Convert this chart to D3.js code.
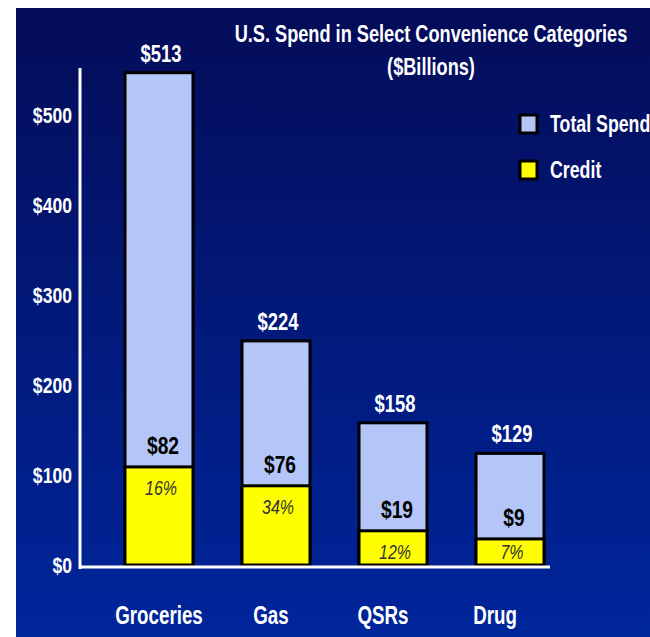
<!DOCTYPE html>
<html>
<head>
<meta charset="utf-8">
<script src="https://cdn.jsdelivr.net/npm/d3@7"></script>
<style>
  body { margin: 0; background: #fff; }
  svg { display: block; }
  text { font-family: "Liberation Sans", Arial, sans-serif; font-weight: bold; }
</style>
</head>
<body>
<script>
// categories and values ($Billions)
var categories = ["Groceries", "Gas", "QSRs", "Drug"];
var totalLabels = ["$513", "$224", "$158", "$129"];
var creditLabels = ["$82", "$76", "$19", "$9"];
var creditShare = ["16%", "34%", "12%", "7%"];
// bar extents as drawn in the picture (axis units)
var totalBars = [547, 249, 158, 124];
var creditBars = [109, 88, 38, 29];
var yTicks = [0, 100, 200, 300, 400, 500];
var legendItems = ["Total Spend", "Credit"];

var width = 650, height = 637;
var blue = "#b3c6f7", yellow = "#ffff00";

// the original uses a narrow bold face, squeeze the text horizontally
function condense(sel, k) {
  sel.each(function() {
    var t = d3.select(this),
        tx = +t.attr("x") || 0,
        ty = +t.attr("y") || 0;
    t.attr("x", 0).attr("y", 0)
      .attr("transform", "translate(" + tx + "," + ty + ") scale(" + k + ",1)");
  });
}

var svg = d3.select("body").append("svg")
    .attr("width", width)
    .attr("height", height);

var grad = svg.append("defs").append("linearGradient")
    .attr("id", "bg").attr("x1", 0).attr("y1", 0).attr("x2", 0).attr("y2", 1);
grad.append("stop").attr("offset", "0%").attr("stop-color", "#040c58");
grad.append("stop").attr("offset", "100%").attr("stop-color", "#00269c");

svg.append("rect")
    .attr("x", 16).attr("y", 8)
    .attr("width", width - 16).attr("height", height - 8)
    .attr("fill", "url(#bg)");

var x = d3.scaleBand().domain(categories).range([125, 544]).paddingInner(0.419).paddingOuter(0);
var y = d3.scaleLinear().domain([0, 500]).range([565, 115]);

// title
svg.append("text")
    .attr("x", 431).attr("y", 42)
    .attr("text-anchor", "middle")
    .attr("fill", "#fff").style("font-size", "23px")
    .text("U.S. Spend in Select Convenience Categories")
    .call(condense, 0.79);
svg.append("text")
    .attr("x", 431).attr("y", 75)
    .attr("text-anchor", "middle")
    .attr("fill", "#fff").style("font-size", "23px")
    .text("($Billions)")
    .call(condense, 0.79);

// y axis
var yAxis = svg.append("g")
    .attr("transform", "translate(72,0)")
    .call(d3.axisLeft(y).tickValues(yTicks).tickSize(0).tickPadding(0)
        .tickFormat(function(d) { return "$" + d; }));
yAxis.select(".domain").remove();
yAxis.selectAll("text")
    .attr("fill", "#fff")
    .attr("dy", "0.36em")
    .style("font-size", "22px")
    .style("font-family", "'Liberation Sans', Arial, sans-serif")
    .call(condense, 0.8);

svg.append("line")
    .attr("x1", 80).attr("x2", 80).attr("y1", 68).attr("y2", 569)
    .attr("stroke", "#fff").attr("stroke-width", 3);

var bars = svg.append("g").selectAll("g")
    .data(categories)
  .enter().append("g");

bars.append("rect")
    .attr("x", function(d) { return x(d); })
    .attr("width", x.bandwidth())
    .attr("y", function(d, i) { return y(totalBars[i]); })
    .attr("height", function(d, i) { return y(0) - y(totalBars[i]); })
    .attr("fill", blue).attr("stroke", "#000").attr("stroke-width", 3);

bars.append("rect")
    .attr("x", function(d) { return x(d); })
    .attr("width", x.bandwidth())
    .attr("y", function(d, i) { return y(creditBars[i]); })
    .attr("height", function(d, i) { return y(0) - y(creditBars[i]); })
    .attr("fill", yellow).attr("stroke", "#000").attr("stroke-width", 3);

// total labels
bars.append("text")
    .attr("x", function(d) { return x(d) + x.bandwidth() / 2 + 2; })
    .attr("y", function(d, i) { return y(totalBars[i]) - 11; })
    .attr("text-anchor", "middle")
    .attr("fill", "#fff").style("font-size", "23px")
    .text(function(d, i) { return totalLabels[i]; })
    .call(condense, 0.8);

// credit labels
bars.append("text")
    .attr("x", function(d) { return x(d) + x.bandwidth() / 2 + 4; })
    .attr("y", function(d, i) { return y(creditBars[i]) - 13; })
    .attr("text-anchor", "middle")
    .attr("fill", "#000").style("font-size", "24px")
    .text(function(d, i) { return creditLabels[i]; })
    .call(condense, 0.8);

// credit share, kept inside the yellow part
bars.append("text")
    .attr("x", function(d) { return x(d) + x.bandwidth() / 2 + 2; })
    .attr("y", function(d, i) { return Math.min(y(creditBars[i]) + 28, y(0) - 6); })
    .attr("text-anchor", "middle")
    .attr("fill", "#333")
    .style("font-size", "20px").style("font-weight", "normal").style("font-style", "italic")
    .text(function(d, i) { return creditShare[i]; })
    .call(condense, 0.8);

// x axis
svg.append("line")
    .attr("x1", 80).attr("x2", 550).attr("y1", 567).attr("y2", 567)
    .attr("stroke", "#fff").attr("stroke-width", 3);

var xAxis = svg.append("g")
    .attr("transform", "translate(0,624)")
    .call(d3.axisBottom(x).tickSize(0).tickPadding(0));
xAxis.select(".domain").remove();
xAxis.selectAll("text")
    .attr("fill", "#fff")
    .attr("dy", null)
    .attr("x", function(d, i) { return -i * 5; })
    .style("font-size", "25px")
    .style("font-family", "'Liberation Sans', Arial, sans-serif")
    .call(condense, 0.75);

// legend
var legend = svg.append("g").selectAll("g")
    .data(legendItems)
  .enter().append("g")
    .attr("transform", function(d, i) { return "translate(520," + (115 + i * 46) + ")"; });
legend.append("rect")
    .attr("width", 17).attr("height", 18)
    .attr("fill", function(d, i) { return i === 0 ? blue : yellow; })
    .attr("stroke", "#000").attr("stroke-width", 3);
legend.append("text")
    .attr("x", 30).attr("y", 17)
    .attr("fill", "#fff").style("font-size", "24px")
    .text(function(d) { return d; })
    .call(condense, 0.74);
</script>
</body>
</html>
